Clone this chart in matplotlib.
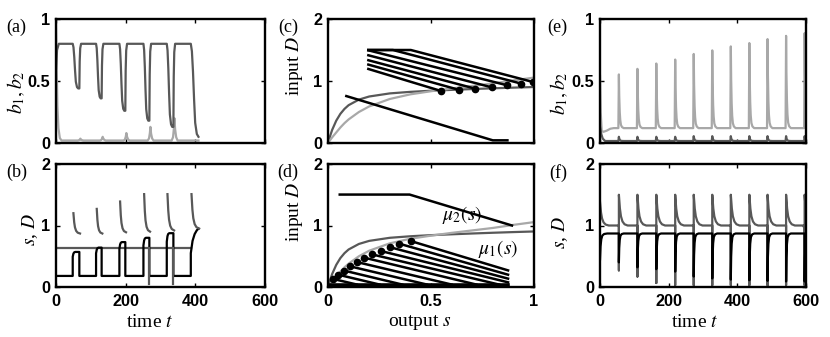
import numpy as np
import matplotlib.pyplot as plt

plt.rcParams['font.family'] = ['Liberation Serif', 'DejaVu Serif']
plt.rcParams['mathtext.fontset'] = 'stix'

nan = np.nan
DARK = '#585858'
LIGHT = '#a8a8a8'

# ---------------- panels (a),(b): switching events
ab_on = [48, 115, 182, 251, 318, 387]
ab_off = [67, 131, 199, 268, 337, 409]
a_b1_high = 0.8
a_b1_trough = [0.44, 0.36, 0.26, 0.18, 0.13, 0.05]
a_b1_start_t = [0, 3, 8]
a_b1_start = [0.6, 0.75, 0.8]
a_b2_low = 0.02
a_b2_bump = [0.035, 0.05, 0.08, 0.13, 0.2]
a_b2_start_t = [0, 2, 4, 7, 11, 16]
a_b2_start = [0.95, 0.6, 0.3, 0.12, 0.04, 0.02]

b_s_low = 0.18
b_s_peak = [0.57, 0.64, 0.73, 0.80, 0.875]
b_s_tail_t = [387, 387, 392, 398, 404, 409]
b_s_tail = [0.18, 0.55, 0.75, 0.86, 0.92, 0.95]
b_D_low = 0.64
b_D_top = [1.2, 1.27, 1.39, 1.51, 1.51, 1.51]
b_D_bottom = [0.87, 0.87, 0.89, 0.90, 0.92, 0.95]
b_D_dip = [nan, nan, nan, 0.05, 0.05, nan]

# ---------------- panels (c),(d): growth curves and control lines
mu_s = [0, 0.01, 0.02, 0.04, 0.06, 0.08, 0.1, 0.15, 0.2, 0.3, 0.4, 0.5, 0.6, 0.7, 0.8, 0.9, 1.0]
mu1 = [0, 0.11, 0.21, 0.36, 0.47, 0.55, 0.61, 0.70, 0.75, 0.80, 0.825, 0.843, 0.857, 0.87, 0.882, 0.893, 0.903]
mu2 = [0, 0.045, 0.09, 0.17, 0.25, 0.32, 0.38, 0.5, 0.59, 0.71, 0.785, 0.835, 0.88, 0.92, 0.96, 1.01, 1.055]

c_left_s = 0.19
c_start_D = [1.20, 1.27, 1.34, 1.42, 1.50, 1.50, 1.50]
c_kink_s = [nan, nan, nan, nan, nan, 0.315, 0.402]
c_dot_s = [0.55, 0.634, 0.715, 0.796, 0.871, 0.939, 0.995]
c_dot_D = [0.838, 0.859, 0.876, 0.897, 0.93, 0.957, 0.984]
c_line_s = [0.089, 0.80, 0.871]
c_line_D = [0.757, 0.043, 0.043]

d_top_s = [0.057, 0.396, 0.893]
d_top_D = [1.503, 1.503, 1.0]
d_floor = 0.04
d_right_s = 0.874
d_dot_s = [0.403, 0.347, 0.300, 0.259, 0.214, 0.177, 0.141, 0.108, 0.079, 0.05, 0.026]
d_dot_D = [0.746, 0.703, 0.648, 0.583, 0.53, 0.476, 0.405, 0.335, 0.266, 0.2, 0.13]
d_end_s = [0.874, 0.874, 0.874, 0.874, 0.83, 0.72, 0.60, 0.48, 0.36, 0.25, 0.14]
d_end_D = [0.27, 0.2, 0.136, 0.076, 0.04, 0.04, 0.04, 0.04, 0.04, 0.04, 0.04]

# ---------------- panels (e),(f): periodic kicks
ef_t = [55, 109, 164, 219, 273, 327, 381, 435, 488, 542, 596]
e_b2_low = 0.12
e_b2_peak = [0.553, 0.598, 0.641, 0.673, 0.718, 0.747, 0.779, 0.806, 0.838, 0.864, 0.886]
e_b2_start_t = [0, 2, 5, 10, 20, 30, 40]
e_b2_start = [0.54, 0.25, 0.1, 0.09, 0.1, 0.115, 0.12]
e_b1_low = 0.016
e_b1_peak = [0.05, 0.05, 0.05, 0.05, 0.055, 0.055, 0.055, 0.055, 0.055, 0.055, 0.055]
e_b1_start_t = [0, 4, 8, 15]
e_b1_start = [0.13, 0.07, 0.035, 0.016]

f_s_high = 0.87
f_s_min = [0.40, 0.32, 0.29, 0.25, 0.17, 0.14, 0.12, 0.11, 0.10, 0.09, 0.09]
f_s_start = 0.45
f_D_low = 1.0
f_D_top = [1.5, 1.5, 1.5, 1.5, 1.5, 1.5, 1.5, 1.5, 1.5, 1.5, 1.5]
f_D_min = [0.27, 0.17, 0.065, 0.03, 0.03, 0.03, 0.03, 0.03, 0.03, 0.03, 0.03]
f_D_start = 1.38

# normalised shapes of single events
drop_dt = [0, 2, 4, 6, 8, 11, 14]
drop_frac = [0, 0.08, 0.3, 0.6, 0.85, 0.97, 1.0]
rise_dt = [0, 1, 2.5, 5]
rise_frac = [0, 0.6, 0.9, 1.0]
bump_dt = [-8, -4, -1.5, 0, 2, 5, 9]
bump_frac = [0, 0.15, 0.55, 1, 0.5, 0.15, 0]
step_dt = [0, 0, 2, 4, 7]
step_frac = [0, 0.8, 0.93, 0.98, 1.0]
hook_dt = [0, 2, 4, 7, 11, 17]
hook_frac = [1, 0.55, 0.3, 0.13, 0.04, 0]
spike_dt = [-1.5, 0, 1, 2.5, 4, 6, 9, 14]
spike_frac = [0, 1, 0.6, 0.3, 0.15, 0.06, 0.02, 0]
rec_dt = [0, 1, 2.5, 4.5, 8, 14]
rec_frac = [1, 0.5, 0.22, 0.08, 0.02, 0]


def add_event(ts, ys, t0, base, amp, dts, fracs, scale=1.0):
    for d, f in zip(dts, fracs):
        ts.append(t0 + d * scale)
        ys.append(base + amp * f)


def style(ax, xt, xl, yt, yl, show_x):
    for sp in ax.spines.values():
        sp.set_linewidth(1.7)
    ax.set_xticks(xt, xl if show_x else [''] * len(xt),
                  fontfamily='Liberation Sans', fontweight='bold', fontsize=11.7)
    ax.set_yticks(yt, yl, fontfamily='Liberation Sans', fontweight='bold', fontsize=11.7)
    ax.tick_params(direction='in', length=3, width=1, top=True, right=True)
    ax.tick_params(axis='x', pad=5)
    ax.tick_params(axis='y', pad=4)
    ax.set_xlim(xt[0], xt[-1])
    ax.set_ylim(yt[0], yt[-1])


def ylab(ax, text, x, y):
    ax.set_ylabel(text, fontsize=14)
    ax.yaxis.set_label_coords(x, y)
    ax.yaxis.label.set(va='center', ha='center')


def xlab(ax, text, x):
    ax.set_xlabel(text, fontsize=14)
    ax.xaxis.set_label_coords(x, -0.285)
    ax.xaxis.label.set(va='center', ha='center')


fig = plt.figure(figsize=(8.3, 3.37), dpi=100)
cols = [56 / 830, 328 / 830, 600 / 830]
widths = [209 / 830, 206 / 830, 206 / 830]
rows = [1 - 143 / 337, 1 - 287 / 337]
heights = [124 / 337, 123 / 337]
axs = [[fig.add_axes([cols[c], rows[r], widths[c], heights[r]]) for c in range(3)] for r in range(2)]
ax_a, ax_c, ax_e = axs[0]
ax_b, ax_d, ax_f = axs[1]

t_ticks = [0, 200, 400, 600]
t_labels = ['0', '200', '400', '600']

# ---- (a)
t1, y1 = list(a_b1_start_t), list(a_b1_start)
for i in range(len(ab_on)):
    last = i == len(ab_on) - 1
    sc = (ab_off[i] - ab_on[i]) / (14 if last else 17)
    add_event(t1, y1, ab_on[i], a_b1_high, a_b1_trough[i] - a_b1_high, drop_dt, drop_frac, sc)
    if not last:
        add_event(t1, y1, ab_off[i], a_b1_trough[i], a_b1_high - a_b1_trough[i], rise_dt, rise_frac)
t2, y2 = list(a_b2_start_t), list(a_b2_start)
for i in range(len(a_b2_bump)):
    add_event(t2, y2, ab_off[i] + 3, a_b2_low, a_b2_bump[i] - a_b2_low, bump_dt, bump_frac)
t2.append(ab_off[-1])
y2.append(a_b2_low)
ax_a.plot(t2, y2, color=LIGHT, lw=1.6)
ax_a.plot(t1, y1, color=DARK, lw=1.6)
style(ax_a, t_ticks, t_labels, [0, 0.5, 1], ['0', '0.5', '1'], False)
ylab(ax_a, '$b_1, b_2$', -0.19, 0.41)

# ---- (b)
ax_b.plot([0, ab_on[-1]], [b_D_low, b_D_low], color=DARK, lw=1.6)
ts, ys = [0], [b_s_low]
for i in range(len(b_s_peak)):
    add_event(ts, ys, ab_on[i], b_s_low, b_s_peak[i] - b_s_low, step_dt, step_frac)
    ts += [ab_off[i], ab_off[i]]
    ys += [b_s_peak[i], b_s_low]
ts += b_s_tail_t
ys += b_s_tail
ax_b.plot(ts, ys, color='black', lw=1.6)
for i in range(len(ab_on)):
    th, yh = [], []
    sc = (ab_off[i] - ab_on[i]) / 17
    add_event(th, yh, ab_on[i] + 2, b_D_bottom[i], b_D_top[i] - b_D_bottom[i], hook_dt, hook_frac, sc)
    ax_b.plot(th, yh, color=DARK, lw=1.6)
    if not np.isnan(b_D_dip[i]):
        ax_b.plot([ab_off[i], ab_off[i]], [b_D_low, b_D_dip[i]], color=DARK, lw=1.6)
style(ax_b, t_ticks, t_labels, [0, 1, 2], ['0', '1', '2'], True)
ylab(ax_b, '$s$, $D$', -0.124, 0.47)
xlab(ax_b, 'time $t$', 0.45)

# ---- (c)
ax_c.plot(mu_s, mu1, color=DARK, lw=1.6)
ax_c.plot(mu_s, mu2, color=LIGHT, lw=1.6)
for i in range(len(c_dot_s)):
    ls, lD = [c_left_s], [c_start_D[i]]
    if not np.isnan(c_kink_s[i]):
        ls.append(c_kink_s[i])
        lD.append(c_start_D[i])
    ls.append(c_dot_s[i])
    lD.append(c_dot_D[i])
    ax_c.plot(ls, lD, color='black', lw=1.8, solid_capstyle='butt')
ax_c.plot(c_dot_s, c_dot_D, 'o', color='black', ms=4.5, clip_on=True)
ax_c.plot(c_line_s, c_line_D, color='black', lw=1.8)
style(ax_c, [0, 0.5, 1], ['0', '0.5', '1'], [0, 1, 2], ['0', '1', '2'], False)
ylab(ax_c, 'input $D$', -0.165, 0.62)

# ---- (d)
ax_d.plot(mu_s, mu1, color=DARK, lw=1.6)
ax_d.plot(mu_s, mu2, color=LIGHT, lw=1.6)
ax_d.plot(d_top_s, d_top_D, color='black', lw=1.8)
ax_d.plot([0, d_right_s], [d_floor, d_floor], color='black', lw=2.6)
for i in range(len(d_dot_s)):
    ax_d.plot([d_dot_s[i], d_end_s[i]], [d_dot_D[i], d_end_D[i]], color='black', lw=1.8)
ax_d.plot(d_dot_s, d_dot_D, 'o', color='black', ms=4.5)
ax_d.text(0.65, 1.17, r'$\mu_2(s)$', fontsize=14, ha='center', va='center')
ax_d.text(0.825, 0.61, r'$\mu_1(s)$', fontsize=14, ha='center', va='center')
style(ax_d, [0, 0.5, 1], ['0', '0.5', '1'], [0, 1, 2], ['0', '1', '2'], True)
ylab(ax_d, 'input $D$', -0.165, 0.61)
xlab(ax_d, 'output $s$', 0.447)

# ---- (e)
t2, y2 = list(e_b2_start_t), list(e_b2_start)
t1, y1 = list(e_b1_start_t), list(e_b1_start)
for i in range(len(ef_t)):
    add_event(t2, y2, ef_t[i], e_b2_low, e_b2_peak[i] - e_b2_low, spike_dt, spike_frac)
    add_event(t1, y1, ef_t[i], e_b1_low, e_b1_peak[i] - e_b1_low, spike_dt, spike_frac)
ax_e.plot(t2, y2, color=LIGHT, lw=1.6)
ax_e.plot(t1, y1, color=DARK, lw=1.6)
style(ax_e, t_ticks, t_labels, [0, 0.5, 1], ['0', '0.5', '1'], False)
ylab(ax_e, '$b_1, b_2$', -0.2, 0.40)

# ---- (f)
tD, yD = [], []
add_event(tD, yD, 0, f_D_low, f_D_start - f_D_low, hook_dt, hook_frac, 1.5)
tsf, ysf = [], []
add_event(tsf, ysf, 0, f_s_high, f_s_start - f_s_high, rec_dt, rec_frac, 1.5)
for i in range(len(ef_t)):
    tD += [ef_t[i], ef_t[i]]
    yD += [f_D_low, f_D_min[i]]
    add_event(tD, yD, ef_t[i], f_D_low, f_D_top[i] - f_D_low, hook_dt, hook_frac, 1.5)
    tsf.append(ef_t[i])
    ysf.append(f_s_high)
    add_event(tsf, ysf, ef_t[i], f_s_high, f_s_min[i] - f_s_high, rec_dt, rec_frac)
ax_f.plot(tD, yD, color=DARK, lw=1.6)
ax_f.plot(tsf, ysf, color='black', lw=1.6)
style(ax_f, t_ticks, t_labels, [0, 1, 2], ['0', '1', '2'], True)
ylab(ax_f, '$s$, $D$', -0.195, 0.44)
xlab(ax_f, 'time $t$', 0.46)

# panel letters
letters = [['(a)', '(c)', '(e)'], ['(b)', '(d)', '(f)']]
lx = [-0.19, -0.195, -0.205]
for r in range(2):
    for c in range(3):
        axs[r][c].text(lx[c], 0.93, letters[r][c], transform=axs[r][c].transAxes,
                       fontsize=13, ha='center', va='center')

fig.savefig('out.png', dpi=100)
